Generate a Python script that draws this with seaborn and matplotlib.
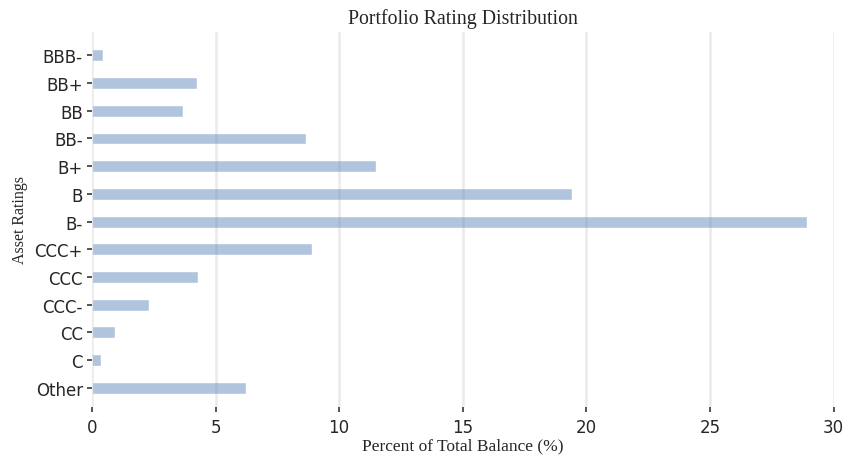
import matplotlib
matplotlib.use("Agg")
import matplotlib.pyplot as plt
import seaborn as sns
import pandas as pd

ratings = ["BBB-", "BB+", "BB", "BB-", "B+", "B", "B-", "CCC+", "CCC", "CCC-", "CC", "C", "Other"]
percent = [0.45, 4.25, 3.7, 8.65, 11.5, 19.4, 28.9, 8.9, 4.3, 2.3, 0.95, 0.35, 6.25]
xticks = [0, 5, 10, 15, 20, 25, 30]

df = pd.DataFrame({"rating": ratings, "percent": percent})

sns.set_style("white")
plt.rcParams["font.family"] = ["DejaVu Sans"]
fig = plt.figure(figsize=(8.43, 4.56), dpi=100)
ax = fig.add_axes([0.109, 0.105, 0.88, 0.823])

sns.barplot(data=df, y="rating", x="percent", orient="h", order=ratings,
            color="#b0c4de", saturation=1, width=0.43, ax=ax, zorder=2)

ax.set_axisbelow(False)
ax.grid(axis="x", color="#808080", alpha=0.16, linewidth=1.8, zorder=3)
ax.grid(axis="y", visible=False)
ax.set_xlim(0, 30.0)
ax.set_ylim(12.7, -0.85)
ax.set_xticks(xticks)
ax.set_xticklabels([str(t) for t in xticks])
sns.despine(ax=ax, left=True, bottom=True, right=True, top=True)
ax.tick_params(axis="both", which="both", length=3.5, width=1.1, color="#262626",
               labelsize=12, labelcolor="#262626", direction="out",
               bottom=True, left=True)
ax.tick_params(axis="x", pad=4)
ax.tick_params(axis="y", pad=3)

ax.set_title("Portfolio Rating Distribution", fontfamily="Liberation Serif", fontsize=14.3,
             color="#262626", pad=6)
ax.set_xlabel("Percent of Total Balance (%)", fontfamily="Liberation Serif", fontsize=12.5,
              color="#262626", labelpad=1)
ax.set_ylabel("Asset Ratings", fontfamily="Liberation Serif", fontsize=11.5,
              color="#262626", labelpad=5)

fig.savefig("out.png", dpi=100)
